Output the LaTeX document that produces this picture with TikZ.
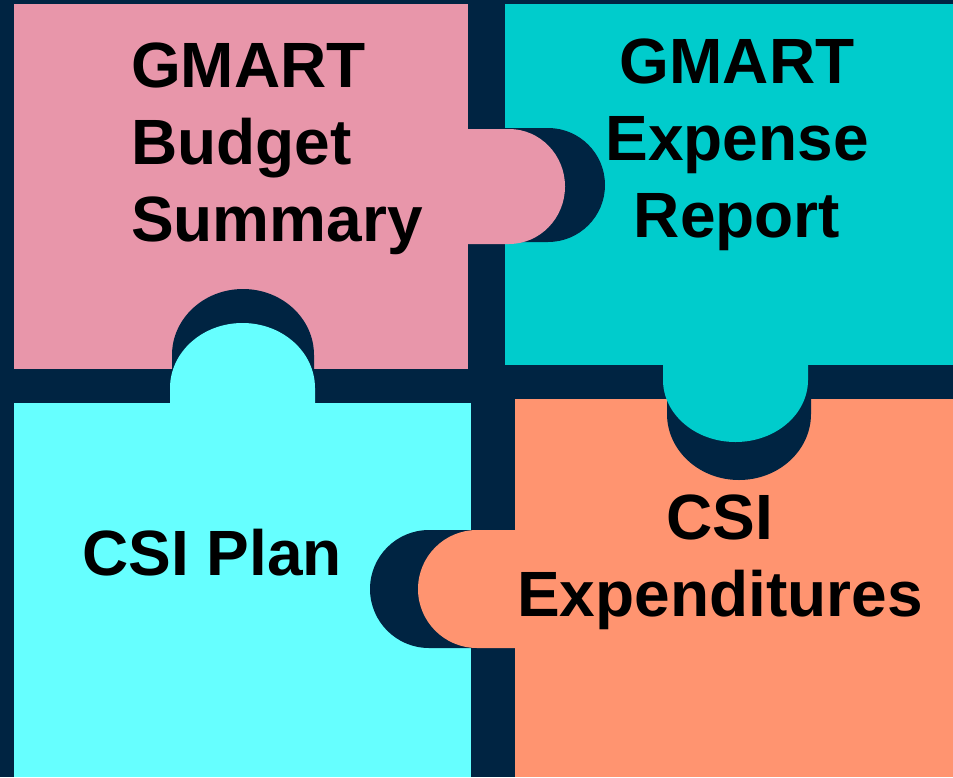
\documentclass[tikz,border=0pt]{standalone}
\usepackage{fontspec}
\setmainfont{Liberation Sans}
\definecolor{navy}{HTML}{002442}
\definecolor{pinkp}{HTML}{E896AA}
\definecolor{tealp}{HTML}{00CCCC}
\definecolor{cyanp}{HTML}{66FFFF}
\definecolor{salmonp}{HTML}{FF9470}
\newcommand\piecefont{\fontsize{64}{77}\selectfont\bfseries}
\begin{document}
\begin{tikzpicture}[x=1pt,y=-1pt,
  lbl/.style={font=\piecefont, text=black, inner sep=0pt},
  hole/.style={fill=navy}]
\useasboundingbox (0,0) rectangle (953,777);
\fill[navy] (0,0) rectangle (953,777);
% piece bodies
\fill[pinkp] (14,4) rectangle (468,369);
\fill[tealp] (505,4) rectangle (953,365);
\fill[cyanp] (14,403) rectangle (471,777);
\fill[salmonp] (515,399) rectangle (953,777);
% holes
\fill[hole] (500,128) -- (548,128) arc[start angle=-90,end angle=90,x radius=57,y radius=57] -- (500,242) -- cycle;
\fill[hole] (172,374) -- (172,355) arc[start angle=180,end angle=360,x radius=71,y radius=66] -- (314,374) -- cycle;
\fill[hole] (667,394) -- (667,414) arc[start angle=180,end angle=0,x radius=72,y radius=66] -- (811,394) -- cycle;
\fill[hole] (476,530) -- (429,530) arc[start angle=-90,end angle=-270,x radius=59,y radius=59] -- (476,648) -- cycle;
% tabs
\fill[pinkp] (460,129) -- (509,129) arc[start angle=-90,end angle=90,x radius=56,y radius=57.5] -- (460,244) -- cycle;
\fill[cyanp] (170,410) -- (170,388) arc[start angle=180,end angle=360,x radius=72.5,y radius=65] -- (315,410) -- cycle;
\fill[tealp] (663,358) -- (663,380) arc[start angle=180,end angle=0,x radius=72.5,y radius=62] -- (808,358) -- cycle;
\fill[salmonp] (522,530) -- (477,530) arc[start angle=-90,end angle=-270,x radius=59,y radius=59] -- (522,648) -- cycle;
% labels (base anchor = baseline of last line)
\node[lbl, anchor=base west, align=left] (budget) at (131,241) {GMART\\Budget\\Summary};
\node[lbl, anchor=base, align=center] (expense) at (737,237) {GMART\\Expense\\Report};
\node[lbl, anchor=base, align=center] (plan) at (212,575) {CSI Plan};
\node[lbl, anchor=base, align=center] (expend) at (720,616) {CSI\\Expenditures};
\end{tikzpicture}
\end{document}
